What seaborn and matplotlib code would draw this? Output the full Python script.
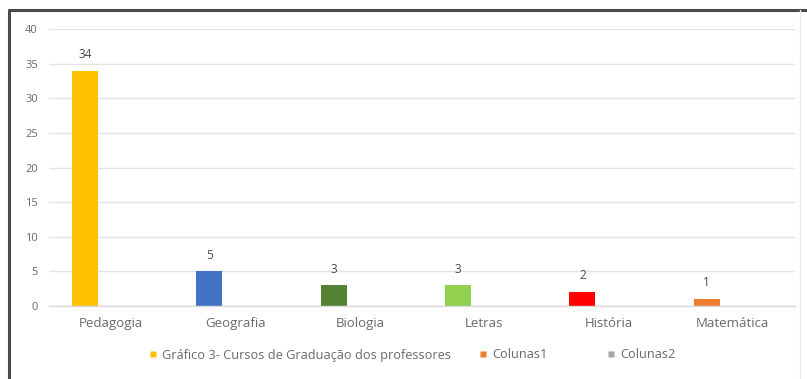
import matplotlib
matplotlib.use("Agg")
import matplotlib.pyplot as plt
from matplotlib.lines import Line2D
import seaborn as sns
import pandas as pd

cursos = ["Pedagogia", "Geografia", "Biologia", "Letras", "História", "Matemática"]
professores = [34, 5, 3, 3, 2, 1]
colunas1 = [0, 0, 0, 0, 0, 0]
colunas2 = [0, 0, 0, 0, 0, 0]
series = ["Gráfico 3- Cursos de Graduação dos professores", "Colunas1", "Colunas2"]
cores_cursos = ["#FFC000", "#4472C4", "#548235", "#92D050", "#FF0000", "#ED7D31"]
cores_series = ["#FFC000", "#ED7D31", "#A5A5A5"]
y_ticks = [0, 5, 10, 15, 20, 25, 30, 35, 40]

df = pd.DataFrame({
    "curso": cursos * 3,
    "serie": [series[0]] * 6 + [series[1]] * 6 + [series[2]] * 6,
    "valor": professores + colunas1 + colunas2,
})

sns.set_theme(style="white")
plt.rcParams["font.family"] = ["Open Sans", "DejaVu Sans"]
texto = "#6A6A6A"

fig = plt.figure(figsize=(8.07, 3.79), dpi=100)
ax = fig.add_axes([49 / 807, 1 - 306 / 379, (795 - 49) / 807, (306 - 29) / 379])

sns.barplot(data=df, x="curso", y="valor", hue="serie", hue_order=series,
            order=cursos, palette=cores_series, width=0.63, saturation=1,
            errorbar=None, legend=False, ax=ax)

# each course gets its own colour in the main series
for patch, cor in zip(ax.containers[0].patches, cores_cursos):
    patch.set_facecolor(cor)
    patch.set_edgecolor("none")
for cont in ax.containers[1:]:
    for patch in cont.patches:
        patch.set_visible(False)

ax.bar_label(ax.containers[0], labels=[str(v) for v in professores],
             padding=7, fontsize=8.5, color="#4A4A4A")

ax.set_ylim(0, 40)
ax.set_yticks(y_ticks)
ax.set_xlim(-0.5, len(cursos) - 0.5)
ax.grid(axis="y", color="#E3E3E3", linewidth=1)
ax.set_axisbelow(True)
for s in ["top", "right", "left"]:
    ax.spines[s].set_visible(False)
ax.spines["bottom"].set_color("#D9D9D9")
ax.spines["bottom"].set_linewidth(1)
ax.tick_params(axis="x", length=0, labelsize=9.5, labelcolor=texto, pad=8)
ax.tick_params(axis="y", length=0, labelsize=8, labelcolor=texto, pad=8)
ax.set_xlabel("")
ax.set_ylabel("")

# legend entries, each anchored at its own position along the bottom
legenda_x = [148 / 807, 478 / 807, 606 / 807]
for nome, cor, x0 in zip(series, cores_series, legenda_x):
    h = Line2D([], [], marker="s", linestyle="none", markersize=4.5,
               markerfacecolor=cor, markeredgecolor="none")
    fig.legend([h], [nome], loc="center left", bbox_to_anchor=(x0, 1 - 355 / 379),
               frameon=False, fontsize=9.2, labelcolor=texto, borderpad=0,
               borderaxespad=0, handletextpad=0.3, handlelength=0.8)

# outer frame of the chart area
fig.add_artist(Line2D([9 / 807, 9 / 807], [0, 1 - 10 / 379], transform=fig.transFigure,
                      color="#4A4A4A", linewidth=2.2))
fig.add_artist(Line2D([9 / 807, 1.0], [1 - 10 / 379, 1 - 10 / 379], transform=fig.transFigure,
                      color="#4A4A4A", linewidth=2.2))
fig.add_artist(Line2D([800 / 807, 800 / 807], [0, 1 - 10 / 379], transform=fig.transFigure,
                      color="#EBEBEB", linewidth=1))

fig.savefig("out.png", dpi=100, facecolor="white")
